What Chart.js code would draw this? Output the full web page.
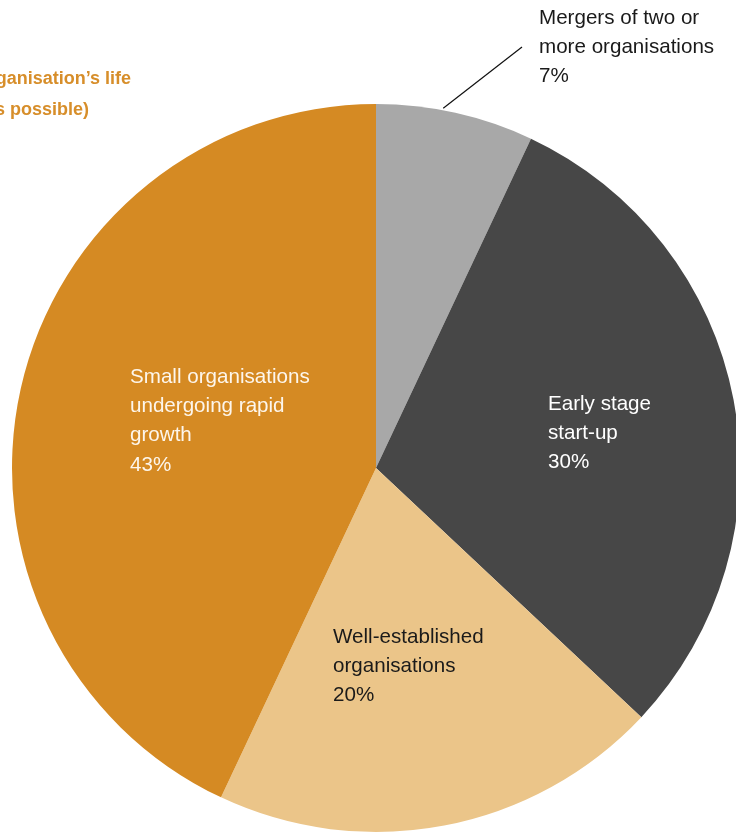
<!DOCTYPE html>
<html>
<head>
<meta charset="utf-8">
<script src="https://cdn.jsdelivr.net/npm/chart.js@4.4.0/dist/chart.umd.min.js"></script>
<style>
  html, body { margin: 0; padding: 0; background: #fff; overflow: hidden; width: 736px; height: 834px; }
  #wrap { position: relative; width: 760px; height: 834px; }
  #title { position: absolute; right: calc(760px - 131px); top: 63px; color: #d78e2a; font: bold 18px "Liberation Sans", Arial, sans-serif; line-height: 31px; text-align: right; white-space: nowrap; }
  #title span { display: block; }
</style>
</head>
<body>
<div id="wrap">
  <canvas id="stageChart" width="760" height="834"></canvas>
  <div id="title"><span>Stage of organisation’s life</span><span style="margin-right:42px">(tick as many as possible)</span></div>
</div>
<script>
const categories = [
  'Mergers of two or more organisations',
  'Early stage start-up',
  'Well-established organisations',
  'Small organisations undergoing rapid growth'
];
const labelLines = [
  ['Mergers of two or', 'more organisations'],
  ['Early stage', 'start-up'],
  ['Well-established', 'organisations'],
  ['Small organisations', 'undergoing rapid', 'growth']
];
const shares = [7, 30, 20, 43];
const sliceColours = ['#a8a8a8', '#474747', '#ebc589', '#d58a23'];

// label anchors (left edge, first line centre) and text colours
const labelStyle = [
  { x: 539, y: 18, color: '#1a1a1a' },
  { x: 548, y: 404, color: '#ffffff' },
  { x: 333, y: 637, color: '#1a1a1a' },
  { x: 130, y: 377, color: '#fdf6ec' }
];

const pieLabels = {
  id: 'pieLabels',
  afterDatasetsDraw(chart) {
    const ctx = chart.ctx;
    const meta = chart.getDatasetMeta(0);
    ctx.save();
    // leader line for the small slice
    const arc = meta.data[0];
    const a = arc.startAngle + (arc.endAngle - arc.startAngle) * 0.42;
    const r = arc.outerRadius + 2;
    ctx.strokeStyle = '#111';
    ctx.lineWidth = 1.2;
    ctx.beginPath();
    ctx.moveTo(arc.x + Math.cos(a) * r, arc.y + Math.sin(a) * r);
    ctx.lineTo(522, 47);
    ctx.stroke();

    ctx.font = '20.6px "Liberation Sans", Arial, sans-serif';
    ctx.textBaseline = 'middle';
    ctx.textAlign = 'left';
    labelLines.forEach((lines, i) => {
      const s = labelStyle[i];
      ctx.fillStyle = s.color;
      const all = lines.concat([shares[i] + '%']);
      all.forEach((t, j) => ctx.fillText(t, s.x, s.y + j * 29.3));
    });
    ctx.restore();
  }
};

new Chart(document.getElementById('stageChart'), {
  type: 'pie',
  data: {
    labels: categories,
    datasets: [{
      data: shares,
      backgroundColor: sliceColours,
      borderWidth: 0
    }]
  },
  options: {
    responsive: false,
    animation: false,
    layout: { padding: { left: 12, right: 20, top: 104, bottom: 2 } },
    plugins: {
      legend: { display: false },
      tooltip: { enabled: false }
    }
  },
  plugins: [pieLabels]
});
</script>
</body>
</html>
